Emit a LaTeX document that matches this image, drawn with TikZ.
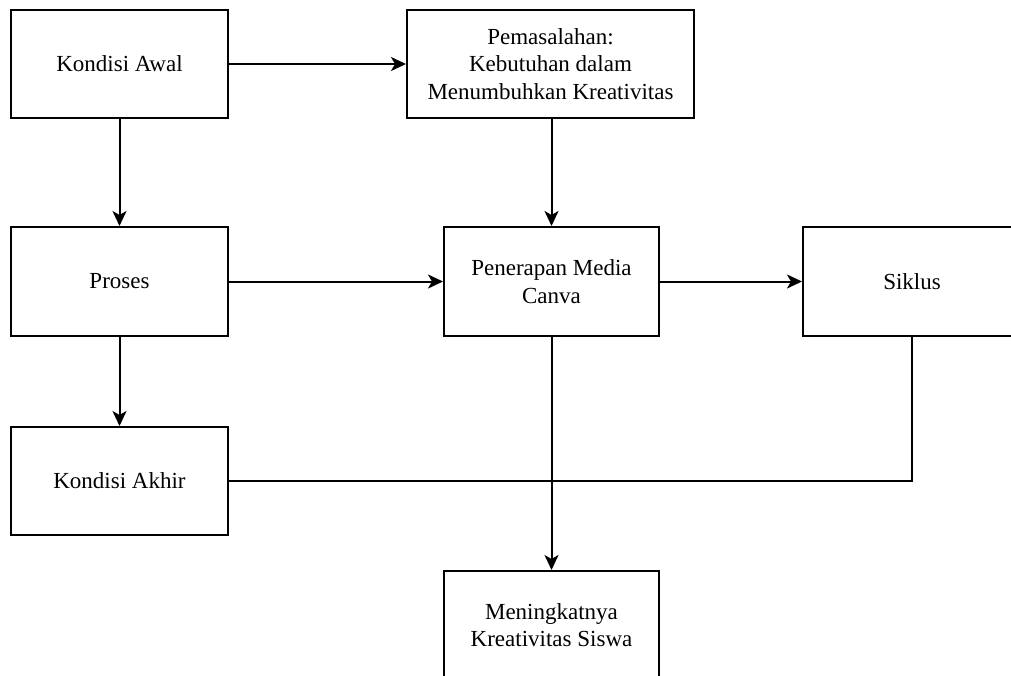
\documentclass[tikz,border=0pt]{standalone}
\usepackage{fontspec}
\setmainfont{Liberation Serif}
\usetikzlibrary{arrows.meta}
\tikzset{
  box/.style={draw=black, line width=2pt, fill=white, align=center, inner sep=0pt,
    font=\fontsize{23}{27.6}\selectfont},
  conn/.style={draw=black, line width=2pt},
  arr/.style={conn, -{Stealth[length=15pt, width=14pt, inset=4pt]}}
}
\begin{document}
\begin{tikzpicture}[x=1pt, y=-1pt]
\useasboundingbox (0,0) rectangle (1011,675);
\clip (0,0) rectangle (1011,675);
\fill[white] (0,0) rectangle (1011,675);
\node[box, minimum width=217pt, minimum height=108pt] (awal) at (119.5,64) {Kondisi Awal};
\node[box, minimum width=287pt, minimum height=108pt] (masalah) at (550.5,64) {Pemasalahan:\\Kebutuhan dalam\\Menumbuhkan Kreativitas};
\node[box, minimum width=217pt, minimum height=109pt] (proses) at (119.5,281.5) {Proses};
\node[box, minimum width=215pt, minimum height=109pt] (canva) at (551.5,281.5) {Penerapan Media\\Canva};
\node[box, minimum width=218pt, minimum height=109pt] (siklus) at (912,281.5) {Siklus};
\node[box, minimum width=217pt, minimum height=108pt] (akhir) at (119.5,481) {Kondisi Akhir};
\node[box, minimum width=215pt, minimum height=108pt] (hasil) at (551.5,625) {Meningkatnya\\Kreativitas Siswa};
\draw[arr] (awal.east) -- (masalah.west);
\draw[arr] (awal.south) -- (proses.north);
\draw[arr] (masalah.south -| canva.north) -- (canva.north);
\draw[arr] (proses.east) -- (canva.west);
\draw[arr] (canva.east) -- (siklus.west);
\draw[arr] (proses.south) -- (akhir.north);
\draw[arr] (canva.south) -- (hasil.north);
\draw[conn] (siklus.south) |- (akhir.east);
\end{tikzpicture}
\end{document}
